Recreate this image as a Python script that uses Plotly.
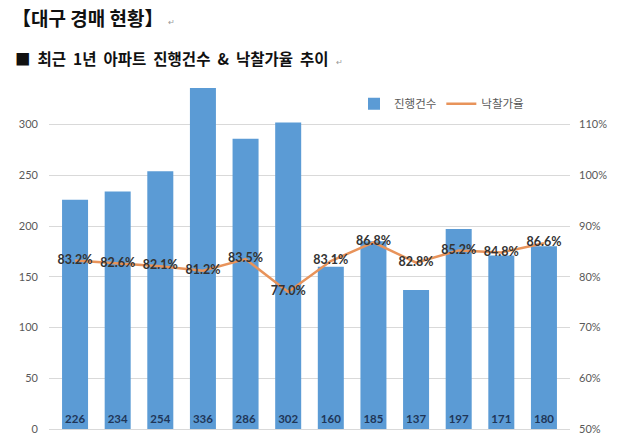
import plotly.graph_objects as go

categories = ["1", "2", "3", "4", "5", "6", "7", "8", "9", "10", "11", "12"]
counts = [226, 234, 254, 336, 286, 302, 160, 185, 137, 197, 171, 180]
rates = [83.2, 82.6, 82.1, 81.2, 83.5, 77.0, 83.1, 86.8, 82.8, 85.2, 84.8, 86.6]
left_ticks = [0, 50, 100, 150, 200, 250, 300]
right_ticks = [50, 60, 70, 80, 90, 100, 110]

W, H = 628, 439
ML, MR, MT, MB = 49, 58, 84, 4
PW, PH = W - ML - MR, H - MT - MB


def px(x):
    return (x - ML) / PW


def py(y):
    return (H - MB - y) / PH


NUM_FONT = "Lato, 'Noto Sans CJK KR', sans-serif"
KR_FONT = "'Noto Sans CJK KR', sans-serif"

fig = go.Figure()
fig.add_trace(go.Bar(
    x=categories, y=counts, name="진행건수",
    marker=dict(color="#5B9BD5", line=dict(width=0)),
    text=[str(c) for c in counts], textposition="inside",
    insidetextanchor="start", textangle=0,
    textfont=dict(family=NUM_FONT, size=12.5, color="#1F3658", weight="bold"),
    cliponaxis=False,
))
fig.add_trace(go.Scatter(
    x=categories, y=rates, name="낙찰가율", yaxis="y2",
    mode="lines+text",
    line=dict(color="#E8935A", width=2.5),
    text=[f"{r:.1f}%" for r in rates], textposition="middle center",
    textfont=dict(family=NUM_FONT, size=12.5, color="#333333", weight="bold"),
    cliponaxis=False,
))

fig.update_layout(
    width=W, height=H,
    margin=dict(l=ML, r=MR, t=MT, b=MB),
    paper_bgcolor="white", plot_bgcolor="white",
    bargap=0.39,
    showlegend=True,
    legend=dict(orientation="h", x=px(354), y=py(104), xanchor="left", yanchor="middle",
                font=dict(family=KR_FONT, size=11.5, color="#595959"),
                bgcolor="rgba(0,0,0,0)", itemwidth=30, tracegroupgap=0),
    xaxis=dict(showticklabels=False, showgrid=False, zeroline=False,
               showline=True, linecolor="#D9D9D9", linewidth=1),
    yaxis=dict(range=[0, 340], tickvals=left_ticks, showgrid=True,
               gridcolor="#D9D9D9", gridwidth=1, zeroline=False,
               tickfont=dict(family=NUM_FONT, size=11, color="#595959"),
               ticks="", ticklabelstandoff=10, ticklabeloverflow="allow"),
    yaxis2=dict(range=[50, 118], tickvals=right_ticks,
                ticktext=[f"{t}%" for t in right_ticks],
                overlaying="y", side="right", showgrid=False, zeroline=False,
                tickfont=dict(family=NUM_FONT, size=11, color="#595959"),
                ticks="", ticklabelstandoff=8, ticklabeloverflow="allow"),
)

fig.add_annotation(text="<b>【대구 경매 현황】</b>", xref="paper", yref="paper",
                   x=px(10), y=py(16), xanchor="left", yanchor="middle", showarrow=False,
                   font=dict(family=KR_FONT, size=19, color="#111111"))
fig.add_annotation(text="↵", xref="paper", yref="paper",
                   x=px(166), y=py(20), xanchor="left", yanchor="middle", showarrow=False,
                   font=dict(family=KR_FONT, size=8, color="#999999"))
fig.add_annotation(text="<b>■  최근  1년  아파트  진행건수  &  낙찰가율  추이</b>", xref="paper", yref="paper",
                   x=px(13), y=py(58), xanchor="left", yanchor="middle", showarrow=False,
                   font=dict(family=KR_FONT, size=15.5, color="#111111"))
fig.add_annotation(text="↵", xref="paper", yref="paper",
                   x=px(334), y=py(61), xanchor="left", yanchor="middle", showarrow=False,
                   font=dict(family=KR_FONT, size=8, color="#999999"))

fig.write_html("out.html")
